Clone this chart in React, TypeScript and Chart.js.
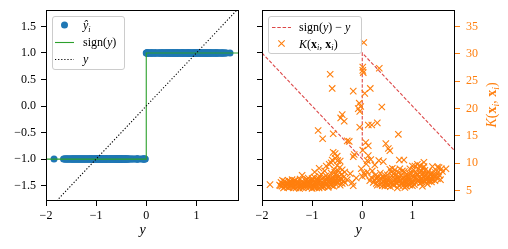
import React, { useEffect, useRef } from 'react';
import { Chart, registerables } from 'chart.js';
Chart.register(...registerables);

const FONT = '"Liberation Serif", "Times New Roman", serif';
const BLUE = '#1f77b4';
const ORANGE = '#ff7f0e';
const GREEN = '#2ca02c';
const RED = 'rgba(214,39,40,0.85)';

const X_MIN = -2, X_MAX = 1.85;
const Y_MIN = -1.79, Y_MAX = 1.81;
const K_MIN = 3.1, K_MAX = 38.05;
const xTicks = [-2, -1, 0, 1];
const yTicks = [-1.5, -1, -0.5, 0, 0.5, 1, 1.5];
const kTicks = [5, 10, 15, 20, 25, 30, 35];

// samples with y < 0 : [y, K(x_i, x_i)]
const negSamples: [number, number][] = [
  [-1.84, 6.1],
  [-1.65, 6.0], [-1.62, 6.5], [-1.60, 5.8], [-1.58, 6.2], [-1.55, 6.7], [-1.53, 5.7], [-1.50, 6.1], [-1.48, 6.9],
  [-1.46, 5.6], [-1.44, 6.4], [-1.42, 6.0], [-1.40, 7.0], [-1.38, 5.7], [-1.36, 6.3], [-1.34, 6.8], [-1.32, 5.5],
  [-1.30, 6.2], [-1.28, 6.6], [-1.26, 5.8], [-1.24, 7.1], [-1.22, 6.0], [-1.20, 7.8], [-1.18, 5.5], [-1.16, 6.4],
  [-1.14, 6.9], [-1.12, 5.9], [-1.10, 6.5], [-1.08, 7.3], [-1.06, 5.6], [-1.04, 6.2], [-1.02, 6.8], [-1.00, 5.4],
  [-0.98, 6.0], [-0.96, 7.5], [-0.94, 6.5], [-0.92, 5.8], [-0.90, 7.1], [-0.88, 6.3], [-0.86, 5.5], [-0.84, 6.9],
  [-0.82, 8.0], [-0.80, 6.1], [-0.78, 7.3], [-0.76, 5.7], [-0.74, 6.6], [-0.72, 7.7], [-0.70, 6.2], [-0.68, 5.6],
  [-0.66, 7.0], [-0.64, 6.4], [-0.62, 8.2], [-0.60, 5.9], [-0.58, 7.4], [-0.56, 6.7], [-0.54, 7.9], [-0.52, 6.1],
  [-0.50, 7.2], [-0.48, 6.5], [-0.46, 7.6], [-0.44, 6.0], [-0.42, 7.0], [-0.40, 6.3], [-0.37, 7.5], [-0.34, 6.4],
  [-1.10, 7.0], [-1.00, 7.2], [-0.90, 6.8], [-0.80, 5.6], [-1.25, 5.4], [-0.70, 7.4], [-0.95, 5.6], [-1.15, 6.2],
  [-0.85, 7.6], [-1.05, 6.6],
  [-1.63, 5.9], [-1.59, 6.9], [-1.57, 5.5], [-1.54, 6.0], [-1.51, 6.4], [-1.49, 5.6], [-1.47, 6.2], [-1.45, 6.7],
  [-1.43, 5.8], [-1.41, 6.5], [-1.39, 6.0], [-1.37, 5.5], [-1.35, 6.9], [-1.33, 6.1], [-1.31, 6.6], [-1.29, 5.7],
  [-1.27, 6.3], [-1.23, 5.7], [-1.21, 6.6], [-1.19, 6.1], [-1.17, 5.8], [-1.13, 6.3], [-1.11, 5.6], [-1.09, 6.1],
  [-1.07, 6.8], [-1.03, 5.8], [-1.01, 6.4], [-0.99, 6.9], [-0.97, 5.7], [-0.93, 6.2], [-0.91, 5.5], [-0.89, 6.6],
  [-0.87, 7.2], [-0.83, 5.8], [-0.81, 6.5], [-0.79, 5.9], [-0.77, 6.8], [-0.73, 6.0], [-0.71, 7.0], [-0.69, 6.6],
  [-0.67, 5.8], [-0.65, 7.5], [-0.63, 6.1], [-0.61, 6.9], [-0.59, 6.4], [-0.57, 5.8], [-0.55, 7.0], [-0.53, 6.6],
  [-0.51, 7.7], [-0.47, 6.9], [-0.43, 7.3], [-0.41, 8.0], [-0.38, 6.8], [-0.55, 8.4], [-0.48, 8.6],
  [-0.95, 8.4], [-0.88, 16.0], [-0.86, 9.1], [-0.79, 14.5], [-0.75, 8.6], [-0.72, 9.5], [-0.66, 9.8], [-0.64, 26.3],
  [-0.62, 10.1], [-0.60, 23.7], [-0.60, 10.6], [-0.58, 15.4], [-0.58, 12.0], [-0.56, 8.9], [-0.54, 11.8],
  [-0.54, 10.9], [-0.50, 11.3], [-0.50, 9.6], [-0.49, 10.5], [-0.45, 9.2], [-0.44, 10.4], [-0.43, 18.3],
  [-0.40, 18.9], [-0.40, 8.8], [-0.36, 17.7], [-0.35, 8.4], [-0.30, 14.1], [-0.30, 7.0], [-0.26, 14.0],
  [-0.24, 8.1], [-0.20, 6.5], [-0.18, 23.2], [-0.18, 11.2], [-0.18, 5.9], [-0.16, 11.6], [-0.12, 7.3],
  [-0.08, 20.0], [-0.06, 21.0], [-0.05, 19.5], [-0.05, 16.6], [-0.03, 20.4], [-0.02, 9.0],
];

// samples with y > 0 : [y, K(x_i, x_i)]
const posSamples: [number, number][] = [
  [0.00, 7.6], [0.01, 27.6], [0.01, 27.0], [0.01, 12.4], [0.02, 26.6], [0.03, 32.1], [0.03, 8.2], [0.05, 22.8],
  [0.06, 7.8], [0.07, 13.8], [0.08, 9.9], [0.10, 10.5], [0.10, 8.4], [0.12, 17.0], [0.12, 13.2], [0.12, 11.4],
  [0.16, 23.7], [0.17, 10.7], [0.19, 17.0], [0.20, 8.6], [0.25, 9.7], [0.28, 7.2], [0.30, 17.4], [0.33, 10.5],
  [0.34, 27.4], [0.39, 20.3], [0.42, 10.3], [0.47, 13.6], [0.52, 12.7], [0.55, 12.3], [0.60, 9.1], [0.72, 15.3],
  [0.74, 10.6], [0.83, 10.6], [0.95, 9.0], [1.00, 9.5], [1.10, 9.8], [1.23, 10.2], [1.23, 9.4], [1.40, 9.4],
  [1.50, 9.3], [1.53, 9.2], [1.58, 9.0], [1.67, 9.0],
  [0.15, 6.8], [0.18, 7.4], [0.22, 6.5], [0.26, 7.8], [0.30, 6.0], [0.33, 7.0], [0.36, 8.2], [0.39, 6.4],
  [0.42, 7.4], [0.45, 5.8], [0.47, 6.8], [0.50, 7.9], [0.52, 6.2], [0.54, 7.2], [0.56, 5.7], [0.58, 8.4],
  [0.60, 6.6], [0.62, 7.5], [0.64, 6.0], [0.66, 7.0], [0.68, 8.0], [0.70, 6.4], [0.72, 7.3], [0.74, 5.9],
  [0.76, 6.9], [0.78, 7.8], [0.80, 6.3], [0.82, 7.2], [0.84, 8.5], [0.86, 6.6], [0.88, 5.8], [0.90, 7.5],
  [0.92, 6.2], [0.94, 8.1], [0.96, 7.0], [0.98, 6.5], [1.00, 7.7], [1.02, 8.8], [1.04, 6.1], [1.06, 7.3],
  [1.08, 8.3], [1.10, 6.8], [1.12, 9.0], [1.14, 7.6], [1.16, 6.4], [1.18, 8.6], [1.20, 7.1], [1.22, 9.2],
  [1.24, 6.7], [1.26, 8.0], [1.28, 7.4], [1.30, 6.2], [1.32, 8.5], [1.34, 7.0], [1.36, 7.9], [1.38, 6.6],
  [1.40, 8.2], [1.42, 7.3], [1.45, 6.8], [1.48, 7.7], [1.52, 8.4], [1.56, 7.0], [0.65, 8.8], [0.75, 9.0],
  [1.05, 9.5], [1.15, 9.6], [0.85, 5.6], [1.00, 5.9], [0.55, 8.9], [0.40, 5.9], [0.70, 5.5], [1.20, 5.8],
  [0.95, 6.0], [0.80, 8.6], [0.62, 6.9], [0.88, 7.0], [1.08, 7.9], [1.18, 7.2], [1.28, 6.9], [0.48, 6.6],
  [0.24, 7.0], [0.28, 6.3], [0.32, 7.5], [0.35, 6.1], [0.38, 7.2], [0.41, 6.7], [0.44, 7.9], [0.46, 6.3],
  [0.49, 7.2], [0.51, 5.9], [0.53, 6.7], [0.57, 6.3], [0.59, 7.7], [0.61, 6.1], [0.63, 8.1], [0.67, 6.4],
  [0.69, 7.4], [0.71, 6.9], [0.73, 8.3], [0.77, 6.2], [0.79, 7.1], [0.81, 5.9], [0.83, 6.8], [0.85, 7.6],
  [0.87, 6.2], [0.89, 8.0], [0.91, 6.8], [0.93, 7.3], [0.97, 6.3], [0.99, 8.2], [1.01, 6.6], [1.03, 7.4],
  [1.07, 6.5], [1.09, 7.1], [1.11, 8.0], [1.13, 6.9], [1.15, 8.3], [1.17, 7.0], [1.19, 6.6], [1.21, 8.0],
  [1.23, 7.5], [1.25, 8.7], [1.27, 7.0], [1.29, 8.1], [1.31, 7.5], [1.33, 6.7], [1.35, 8.0], [1.37, 7.3],
  [1.39, 7.0], [1.41, 7.8], [1.44, 7.5], [1.46, 8.3], [1.50, 7.2], [1.54, 7.8], [1.60, 8.5],
];

const negPrediction = -1;
const posPrediction = 1;

const signLine: [number, number][] = [[-2, -1], [0, -1], [0, 1], [2, 1]];
const identityLine: [number, number][] = [[-2, -2], [2, 2]];
const residualLine: [number, number][] = [[-2, 1], [0, -1], [0, 1], [2, -1]];

type Seg = { t: string; it?: boolean; b?: boolean; sub?: boolean };

const fmt = (v: number, d: number) => v.toFixed(d).replace('-', '\u2212');

function richWidth(ctx: CanvasRenderingContext2D, segs: Seg[], size: number) {
  let w = 0;
  for (const s of segs) {
    const fs = s.sub ? size * 0.7 : size;
    ctx.font = `${s.it ? 'italic ' : ''}${s.b ? 'bold ' : ''}${fs}px ${FONT}`;
    w += ctx.measureText(s.t).width;
  }
  return w;
}

function drawRich(ctx: CanvasRenderingContext2D, segs: Seg[], x: number, y: number, size: number, color: string) {
  let cx = x;
  ctx.textBaseline = 'alphabetic';
  ctx.textAlign = 'left';
  ctx.fillStyle = color;
  for (const s of segs) {
    const fs = s.sub ? size * 0.7 : size;
    ctx.font = `${s.it ? 'italic ' : ''}${s.b ? 'bold ' : ''}${fs}px ${FONT}`;
    ctx.fillText(s.t, cx, y + (s.sub ? size * 0.22 : 0));
    cx += ctx.measureText(s.t).width;
  }
}

function legendBox(ctx: CanvasRenderingContext2D, x0: number, y0: number, x1: number, y1: number) {
  ctx.save();
  ctx.beginPath();
  (ctx as any).roundRect(x0 + 0.5, y0 + 0.5, x1 - x0, y1 - y0, 2.5);
  ctx.fillStyle = 'rgba(255,255,255,0.8)';
  ctx.fill();
  ctx.strokeStyle = '#cccccc';
  ctx.lineWidth = 1;
  ctx.stroke();
  ctx.restore();
}

function frame(chart: any) {
  const { ctx, chartArea: a } = chart;
  ctx.save();
  ctx.strokeStyle = '#000';
  ctx.lineWidth = 1;
  ctx.strokeRect(Math.round(a.left) + 0.5, Math.round(a.top) + 0.5, Math.round(a.right - a.left) - 1, Math.round(a.bottom - a.top) - 1);
  ctx.restore();
}

function xLabel(chart: any) {
  const { ctx, chartArea: a } = chart;
  ctx.save();
  ctx.font = `italic 14px ${FONT}`;
  ctx.fillStyle = '#000';
  ctx.textAlign = 'center';
  ctx.textBaseline = 'alphabetic';
  ctx.fillText('y', (a.left + a.right) / 2, 234);
  ctx.restore();
}

const tickFont = { family: FONT, size: 12 };

function xScale() {
  return {
    type: 'linear',
    position: 'bottom',
    min: X_MIN,
    max: X_MAX,
    afterBuildTicks: (s: any) => { s.ticks = xTicks.map((v) => ({ value: v })); },
    afterFit: (s: any) => { s.height = 48; s.paddingLeft = 0; s.paddingRight = 0; },
    grid: { drawOnChartArea: false, drawTicks: true, tickLength: 5, tickColor: '#000', tickWidth: 1 },
    border: { display: false },
    ticks: { autoSkip: false, maxRotation: 0, padding: 3, color: '#000', font: tickFont, callback: (v: any) => fmt(Number(v), 0) },
  };
}

function yScale(width: number, showLabels: boolean) {
  return {
    type: 'linear',
    position: 'left',
    min: Y_MIN,
    max: Y_MAX,
    afterBuildTicks: (s: any) => { s.ticks = yTicks.map((v) => ({ value: v })); },
    afterFit: (s: any) => { s.width = width; s.paddingTop = 0; s.paddingBottom = 0; },
    grid: { drawOnChartArea: false, drawTicks: true, tickLength: 5, tickColor: '#000', tickWidth: 1 },
    border: { display: false },
    ticks: { autoSkip: false, padding: 5, color: '#000', font: tickFont, callback: (v: any) => (showLabels ? fmt(Number(v), 1) : '') },
  };
}

function LeftPanel() {
  const ref = useRef<HTMLCanvasElement>(null);
  useEffect(() => {
    const decor = {
      id: 'decorLeft',
      afterDatasetsDraw(chart: any) {
        const ctx = chart.ctx as CanvasRenderingContext2D;
        frame(chart);
        legendBox(ctx, 52, 16, 124, 69);
        ctx.save();
        ctx.fillStyle = BLUE;
        ctx.beginPath();
        ctx.arc(64.5, 25, 3.5, 0, Math.PI * 2);
        ctx.fill();
        ctx.strokeStyle = GREEN;
        ctx.lineWidth = 1.1;
        ctx.beginPath();
        ctx.moveTo(55, 42.5);
        ctx.lineTo(74, 42.5);
        ctx.stroke();
        ctx.strokeStyle = '#000';
        ctx.setLineDash([1.2, 1.9]);
        ctx.beginPath();
        ctx.moveTo(55, 59.5);
        ctx.lineTo(74, 59.5);
        ctx.stroke();
        ctx.restore();
        drawRich(ctx, [{ t: '\u0177', it: true }, { t: 'i', it: true, sub: true }], 83, 29, 12, '#000');
        drawRich(ctx, [{ t: 'sign(' }, { t: 'y', it: true }, { t: ')' }], 83, 46, 12, '#000');
        drawRich(ctx, [{ t: 'y', it: true }], 83, 63, 12, '#000');
        xLabel(chart);
      },
    };
    const chart = new Chart(ref.current!, {
      type: 'scatter',
      data: {
        datasets: [
          {
            label: 'y',
            data: identityLine.map(([x, y]) => ({ x, y })),
            showLine: true,
            borderColor: '#000',
            borderWidth: 1.1,
            borderDash: [1.2, 1.9],
            pointRadius: 0,
          },
          {
            label: 'sign(y)',
            data: signLine.map(([x, y]) => ({ x, y })),
            showLine: true,
            borderColor: GREEN,
            borderWidth: 1.1,
            pointRadius: 0,
          },
          {
            label: 'yhat',
            data: [
              ...negSamples.map(([x]) => ({ x, y: negPrediction })),
              ...posSamples.map(([x]) => ({ x, y: posPrediction })),
            ],
            pointRadius: 3.5,
            pointBorderWidth: 0,
            pointBackgroundColor: BLUE,
            backgroundColor: BLUE,
            borderColor: BLUE,
          },
        ],
      },
      options: {
        responsive: false,
        animation: false,
        events: [],
        layout: { padding: { top: 10, right: 15, left: 0, bottom: 0 } },
        plugins: { legend: { display: false }, tooltip: { enabled: false }, title: { display: false } },
        scales: { x: xScale(), y: yScale(46, true) } as any,
      },
      plugins: [decor],
    } as any);
    return () => chart.destroy();
  }, []);
  return <canvas ref={ref} width={254} height={249} style={{ position: 'absolute', left: 0, top: 0, width: 254, height: 249 }} />;
}

function RightPanel() {
  const ref = useRef<HTMLCanvasElement>(null);
  useEffect(() => {
    const decor = {
      id: 'decorRight',
      afterDatasetsDraw(chart: any) {
        const ctx = chart.ctx as CanvasRenderingContext2D;
        frame(chart);
        const ox = 254;
        legendBox(ctx, 268 - ox, 16, 361 - ox, 53);
        ctx.save();
        ctx.strokeStyle = RED;
        ctx.lineWidth = 1.1;
        ctx.setLineDash([3.5, 1.8]);
        ctx.beginPath();
        ctx.moveTo(272 - ox, 27.5);
        ctx.lineTo(291 - ox, 27.5);
        ctx.stroke();
        ctx.setLineDash([]);
        ctx.strokeStyle = ORANGE;
        const cx = 281.5 - ox, cy = 43.5, r = 3.2;
        ctx.beginPath();
        ctx.moveTo(cx - r, cy - r); ctx.lineTo(cx + r, cy + r);
        ctx.moveTo(cx - r, cy + r); ctx.lineTo(cx + r, cy - r);
        ctx.stroke();
        ctx.restore();
        drawRich(ctx, [{ t: 'sign(' }, { t: 'y', it: true }, { t: ') \u2212 ' }, { t: 'y', it: true }], 299 - ox, 31, 12, '#000');
        drawRich(ctx, [
          { t: 'K', it: true }, { t: '(' }, { t: 'x', b: true }, { t: 'i', it: true, sub: true },
          { t: ', ' }, { t: 'x', b: true }, { t: 'i', it: true, sub: true }, { t: ')' },
        ], 299 - ox, 47.5, 12, '#000');
        xLabel(chart);
        const title: Seg[] = [
          { t: 'K', it: true }, { t: '(' }, { t: 'x', b: true }, { t: 'i', it: true, sub: true },
          { t: ', ' }, { t: 'x', b: true }, { t: 'i', it: true, sub: true }, { t: ')' },
        ];
        ctx.save();
        ctx.translate(491 - ox, 105);
        ctx.rotate(-Math.PI / 2);
        const w = richWidth(ctx, title, 14);
        drawRich(ctx, title, -w / 2, 5, 14, ORANGE);
        ctx.restore();
      },
    };
    const chart = new Chart(ref.current!, {
      type: 'scatter',
      data: {
        datasets: [
          {
            label: 'K',
            yAxisID: 'k',
            data: [
              ...negSamples.map(([x, y]) => ({ x, y })),
              ...posSamples.map(([x, y]) => ({ x, y })),
            ],
            pointStyle: 'crossRot',
            pointRadius: 4.5,
            pointBorderWidth: 1.1,
            pointBorderColor: ORANGE,
            borderColor: ORANGE,
            backgroundColor: ORANGE,
          },
          {
            label: 'sign(y) - y',
            yAxisID: 'y',
            data: residualLine.map(([x, y]) => ({ x, y })),
            showLine: true,
            borderColor: RED,
            borderWidth: 1.1,
            borderDash: [3.5, 1.8],
            pointRadius: 0,
          },
        ],
      },
      options: {
        responsive: false,
        animation: false,
        events: [],
        layout: { padding: { top: 10, right: 0, left: 0, bottom: 0 } },
        plugins: { legend: { display: false }, tooltip: { enabled: false }, title: { display: false } },
        scales: {
          x: xScale(),
          y: yScale(8, false),
          k: {
            type: 'linear',
            position: 'right',
            min: K_MIN,
            max: K_MAX,
            afterBuildTicks: (s: any) => { s.ticks = kTicks.map((v) => ({ value: v })); },
            afterFit: (s: any) => { s.width = 53; s.paddingTop = 0; s.paddingBottom = 0; },
            grid: { drawOnChartArea: false, drawTicks: true, tickLength: 5, tickColor: ORANGE, tickWidth: 1 },
            border: { display: false },
            ticks: { autoSkip: false, padding: 6, color: ORANGE, font: tickFont, callback: (v: any) => fmt(Number(v), 0) },
          },
        } as any,
      },
      plugins: [decor],
    } as any);
    return () => chart.destroy();
  }, []);
  return <canvas ref={ref} width={254} height={249} style={{ position: 'absolute', left: 254, top: 0, width: 254, height: 249 }} />;
}

export default function App() {
  return (
    <div style={{ position: 'fixed', left: 0, top: 0, width: 508, height: 249, background: '#fff', overflow: 'hidden' }}>
      <LeftPanel />
      <RightPanel />
    </div>
  );
}
